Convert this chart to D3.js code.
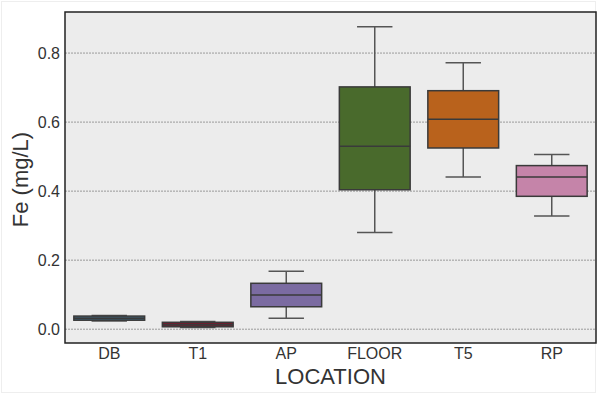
<!DOCTYPE html>
<html>
<head>
<meta charset="utf-8">
<script src="https://cdn.jsdelivr.net/npm/d3@7"></script>
<style>
  body { margin: 0; background: #fff; }
  text { font-family: "Liberation Sans", Arial, sans-serif; }
</style>
</head>
<body>
<div class="canva"></div>
<script>
// data
const locations = ['DB', 'T1', 'AP', 'FLOOR', 'T5', 'RP'];
const whiskLow  = [0.024, 0.005, 0.032, 0.280, 0.441, 0.328];
const q1        = [0.026, 0.007, 0.065, 0.404, 0.525, 0.385];
const median    = [0.032, 0.013, 0.099, 0.530, 0.608, 0.441];
const q3        = [0.038, 0.020, 0.133, 0.702, 0.691, 0.474];
const whiskHigh = [0.040, 0.022, 0.168, 0.876, 0.772, 0.506];
const colors    = ['#3c6176', '#6e1f30', '#7b6ba1', '#496a2c', '#b9621c', '#c584a9'];
const yTicks    = [0.0, 0.2, 0.4, 0.6, 0.8];

const data = locations.map((name, i) => ({
  name, lo: whiskLow[i], q1: q1[i], med: median[i], q3: q3[i], hi: whiskHigh[i], color: colors[i]
}));

const W = 597, H = 394;
const margin = { top: 12, right: 1, bottom: 51, left: 65 };
const graphWidth = W - margin.left - margin.right;
const graphHeight = H - margin.top - margin.bottom;

const svg = d3.select('.canva').append('svg')
  .attr('width', W)
  .attr('height', H);

// faint outer frame
svg.append('rect')
  .attr('x', 1.5).attr('y', 1.5)
  .attr('width', W - 3).attr('height', H - 3)
  .attr('fill', '#fff')
  .attr('stroke', '#eee');

const graph = svg.append('g')
  .attr('transform', `translate(${margin.left}, ${margin.top})`);

const y = d3.scaleLinear()
  .domain([-0.04, 0.919])
  .range([graphHeight, 0]);

const x = d3.scaleBand()
  .domain(locations)
  .range([0, graphWidth])
  .paddingInner(0.2)
  .paddingOuter(0.1);

// background
graph.append('rect')
  .attr('width', graphWidth)
  .attr('height', graphHeight)
  .attr('fill', '#ececec');

// gridlines
graph.selectAll('line.grid')
  .data(yTicks)
  .enter().append('line')
  .attr('class', 'grid')
  .attr('x1', 0).attr('x2', graphWidth)
  .attr('y1', d => y(d)).attr('y2', d => y(d))
  .attr('stroke', '#9a9a9a')
  .attr('stroke-width', 1)
  .attr('stroke-dasharray', '2,1');

// axes
const yAxis = d3.axisLeft(y).tickValues(yTicks).tickFormat(d3.format('.1f')).tickSize(0).tickPadding(5);
const xAxis = d3.axisBottom(x).tickSize(0).tickPadding(5);

const yAxisGroup = graph.append('g').call(yAxis);
const xAxisGroup = graph.append('g').attr('transform', `translate(0, ${graphHeight})`).call(xAxis);

[yAxisGroup, xAxisGroup].forEach(g => {
  g.select('.domain').remove();
  g.selectAll('text')
    .attr('fill', '#333')
    .style('font-size', '16px');
});

// boxes
const box = graph.selectAll('g.box')
  .data(data)
  .enter().append('g')
  .attr('class', 'box')
  .attr('transform', d => `translate(${x(d.name)}, 0)`);

const bw = x.bandwidth();

box.append('line')
  .attr('x1', bw / 2).attr('x2', bw / 2)
  .attr('y1', d => y(d.hi)).attr('y2', d => y(d.q3))
  .attr('stroke', '#555').attr('stroke-width', 1.5);
box.append('line')
  .attr('x1', bw / 2).attr('x2', bw / 2)
  .attr('y1', d => y(d.q1)).attr('y2', d => y(d.lo))
  .attr('stroke', '#555').attr('stroke-width', 1.5);
box.selectAll('line.cap')
  .data(d => [d.hi, d.lo])
  .enter().append('line')
  .attr('class', 'cap')
  .attr('x1', bw / 4).attr('x2', bw * 3 / 4)
  .attr('y1', d => y(d)).attr('y2', d => y(d))
  .attr('stroke', '#555').attr('stroke-width', 1.5);

box.append('rect')
  .attr('x', 0)
  .attr('width', bw)
  .attr('y', d => y(d.q3))
  .attr('height', d => y(d.q1) - y(d.q3))
  .attr('fill', d => d.color)
  .attr('stroke', '#3a3a3a')
  .attr('stroke-width', 1.5);

box.append('line')
  .attr('x1', 0).attr('x2', bw)
  .attr('y1', d => y(d.med)).attr('y2', d => y(d.med))
  .attr('stroke', '#3a3a3a').attr('stroke-width', 1.5);

// spines
graph.append('rect')
  .attr('width', graphWidth)
  .attr('height', graphHeight)
  .attr('fill', 'none')
  .attr('stroke', '#222')
  .attr('stroke-width', 1.5);

// axis titles
svg.append('text')
  .attr('transform', `translate(28, ${margin.top + graphHeight / 2 + 2}) rotate(-90)`)
  .attr('text-anchor', 'middle')
  .attr('fill', '#333')
  .style('font-size', '22px')
  .text('Fe (mg/L)');

svg.append('text')
  .attr('x', margin.left + graphWidth / 2)
  .attr('y', 384)
  .attr('text-anchor', 'middle')
  .attr('fill', '#333')
  .style('font-size', '22px')
  .text('LOCATION');
</script>
</body>
</html>
